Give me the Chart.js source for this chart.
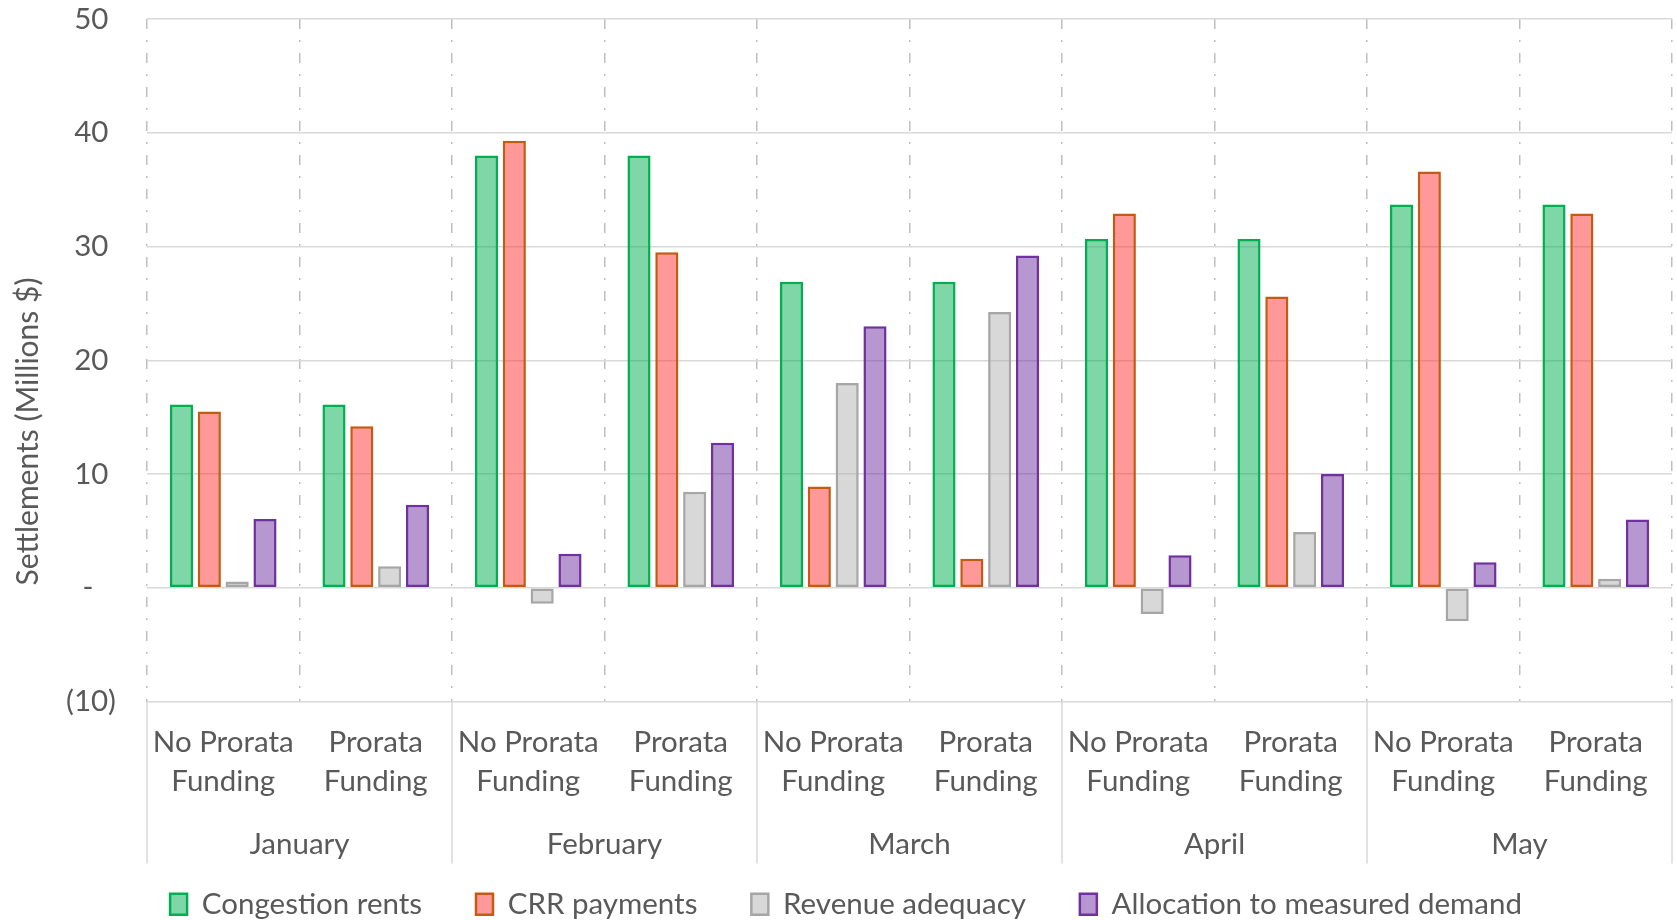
<!DOCTYPE html>
<html>
<head>
<meta charset="utf-8">
<script src="https://cdn.jsdelivr.net/npm/chart.js@4/dist/chart.umd.min.js"></script>
<style>
  html, body { margin: 0; padding: 0; background: #fff; }
  #wrap { width: 1677px; height: 920px; position: relative; }
</style>
</head>
<body>
<div id="wrap"><canvas id="mainChart"></canvas></div>
<script>
// --- Data ---
const months = ['January', 'February', 'March', 'April', 'May'];
const fundingCases = [['No Prorata', 'Funding'], ['Prorata', 'Funding']];
const congestionRents = [16.1, 16.1, 38.0, 38.0, 26.9, 26.9, 30.65, 30.65, 33.7, 33.7];
const crrPayments = [15.5, 14.2, 39.3, 29.5, 8.9, 2.55, 32.9, 25.6, 36.6, 32.9];
const revenueAdequacy = [0.55, 1.9, -1.4, 8.45, 18.0, 24.25, -2.3, 4.9, -2.95, 0.8];
const allocationDemand = [6.05, 7.3, 3.0, 12.75, 23.0, 29.2, 2.85, 10.0, 2.25, 6.0];

// --- Style ---
const textColor = '#595959';
const font = { family: 'Lato', size: 29.5 };

const categories = months.flatMap(() => fundingCases);

// vertical separators between months, below the plot
const monthDividers = {
    id: 'monthDividers',
    afterDraw(chart) {
        const { ctx, chartArea } = chart;
        const x2 = chart.scales.x2;
        const step = x2.width / months.length;
        ctx.save();
        ctx.strokeStyle = '#d9d9d9';
        ctx.lineWidth = 1.5;
        for (let i = 0; i <= months.length; i++) {
            const x = x2.left + i * step;
            ctx.beginPath();
            ctx.moveTo(x, chartArea.bottom);
            ctx.lineTo(x, x2.bottom - 9);
            ctx.stroke();
        }
        ctx.restore();
    }
};

function series(label, data, fill, border) {
    return {
        label,
        data,
        backgroundColor: fill,
        borderColor: border,
        borderWidth: 2.5,
        borderSkipped: false,
        categoryPercentage: 0.73,
        barPercentage: 0.83
    };
}

new Chart(document.getElementById('mainChart'), {
    type: 'bar',
    data: {
        labels: categories,
        datasets: [
            series('Congestion rents', congestionRents, 'rgba(0, 176, 80, 0.5)', '#00b050'),
            series('CRR payments', crrPayments, 'rgba(255, 51, 51, 0.5)', '#c55a11'),
            series('Revenue adequacy', revenueAdequacy, 'rgba(178, 178, 178, 0.5)', '#a6a6a6'),
            series('Allocation to measured demand', allocationDemand, 'rgba(112, 48, 160, 0.5)', '#7030a0')
        ]
    },
    options: {
        responsive: true,
        maintainAspectRatio: false,
        animation: false,
        layout: { padding: { top: 19, right: 5, left: 20, bottom: -9 } },
        plugins: {
            legend: {
                position: 'bottom',
                labels: {
                    color: textColor,
                    font,
                    boxWidth: 17,
                    boxHeight: 21,
                    padding: 17,
                    // extra gap between items without growing the legend height
                    generateLabels(chart) {
                        const items = Chart.defaults.plugins.legend.labels.generateLabels(chart);
                        items.forEach((item, i) => {
                            if (i < items.length - 1) item.text += '\u2003\u2002';
                        });
                        return items;
                    }
                }
            },
            tooltip: { enabled: false }
        },
        scales: {
            x: {
                offset: true,
                grid: { offset: true, color: '#bfbfbf', lineWidth: 1.5, drawTicks: false },
                border: { display: false, dash: [10, 11, 2, 11] },
                ticks: {
                    color: textColor,
                    font: { family: 'Lato', size: 29.5, lineHeight: 1.3 },
                    padding: 22,
                    maxRotation: 0,
                    autoSkip: false
                },
                afterFit(scale) { scale.height = 105; }
            },
            x2: {
                type: 'category',
                labels: months,
                position: 'bottom',
                offset: true,
                grid: { display: false, drawTicks: false },
                border: { display: false },
                ticks: { color: textColor, font, padding: 20, maxRotation: 0, autoSkip: false },
                afterFit(scale) { scale.height = 66; }
            },
            y: {
                min: -10,
                max: 50,
                // invisible tick marks keep the labels away from the plot
                grid: { color: '#d9d9d9', lineWidth: 1.5, drawTicks: true, tickLength: 31, tickColor: 'rgba(0,0,0,0)' },
                border: { display: false },
                ticks: {
                    stepSize: 10,
                    color: textColor,
                    font,
                    padding: 0,
                    callback: v => v === 0 ? '-   ' : (v < 0 ? '(' + Math.abs(v) + ')' : v + ' ')
                },
                title: {
                    display: true,
                    text: 'Settlements (Millions $)' + '\u2003\u2003\u2003\u2003\u2003\u2002\u2002',
                    color: textColor,
                    font: { family: 'Lato', size: 30 },
                    padding: { top: -10, bottom: 0 }
                },
                afterFit(scale) { scale.width = 127; }
            }
        }
    },
    plugins: [monthDividers]
});
</script>
</body>
</html>
